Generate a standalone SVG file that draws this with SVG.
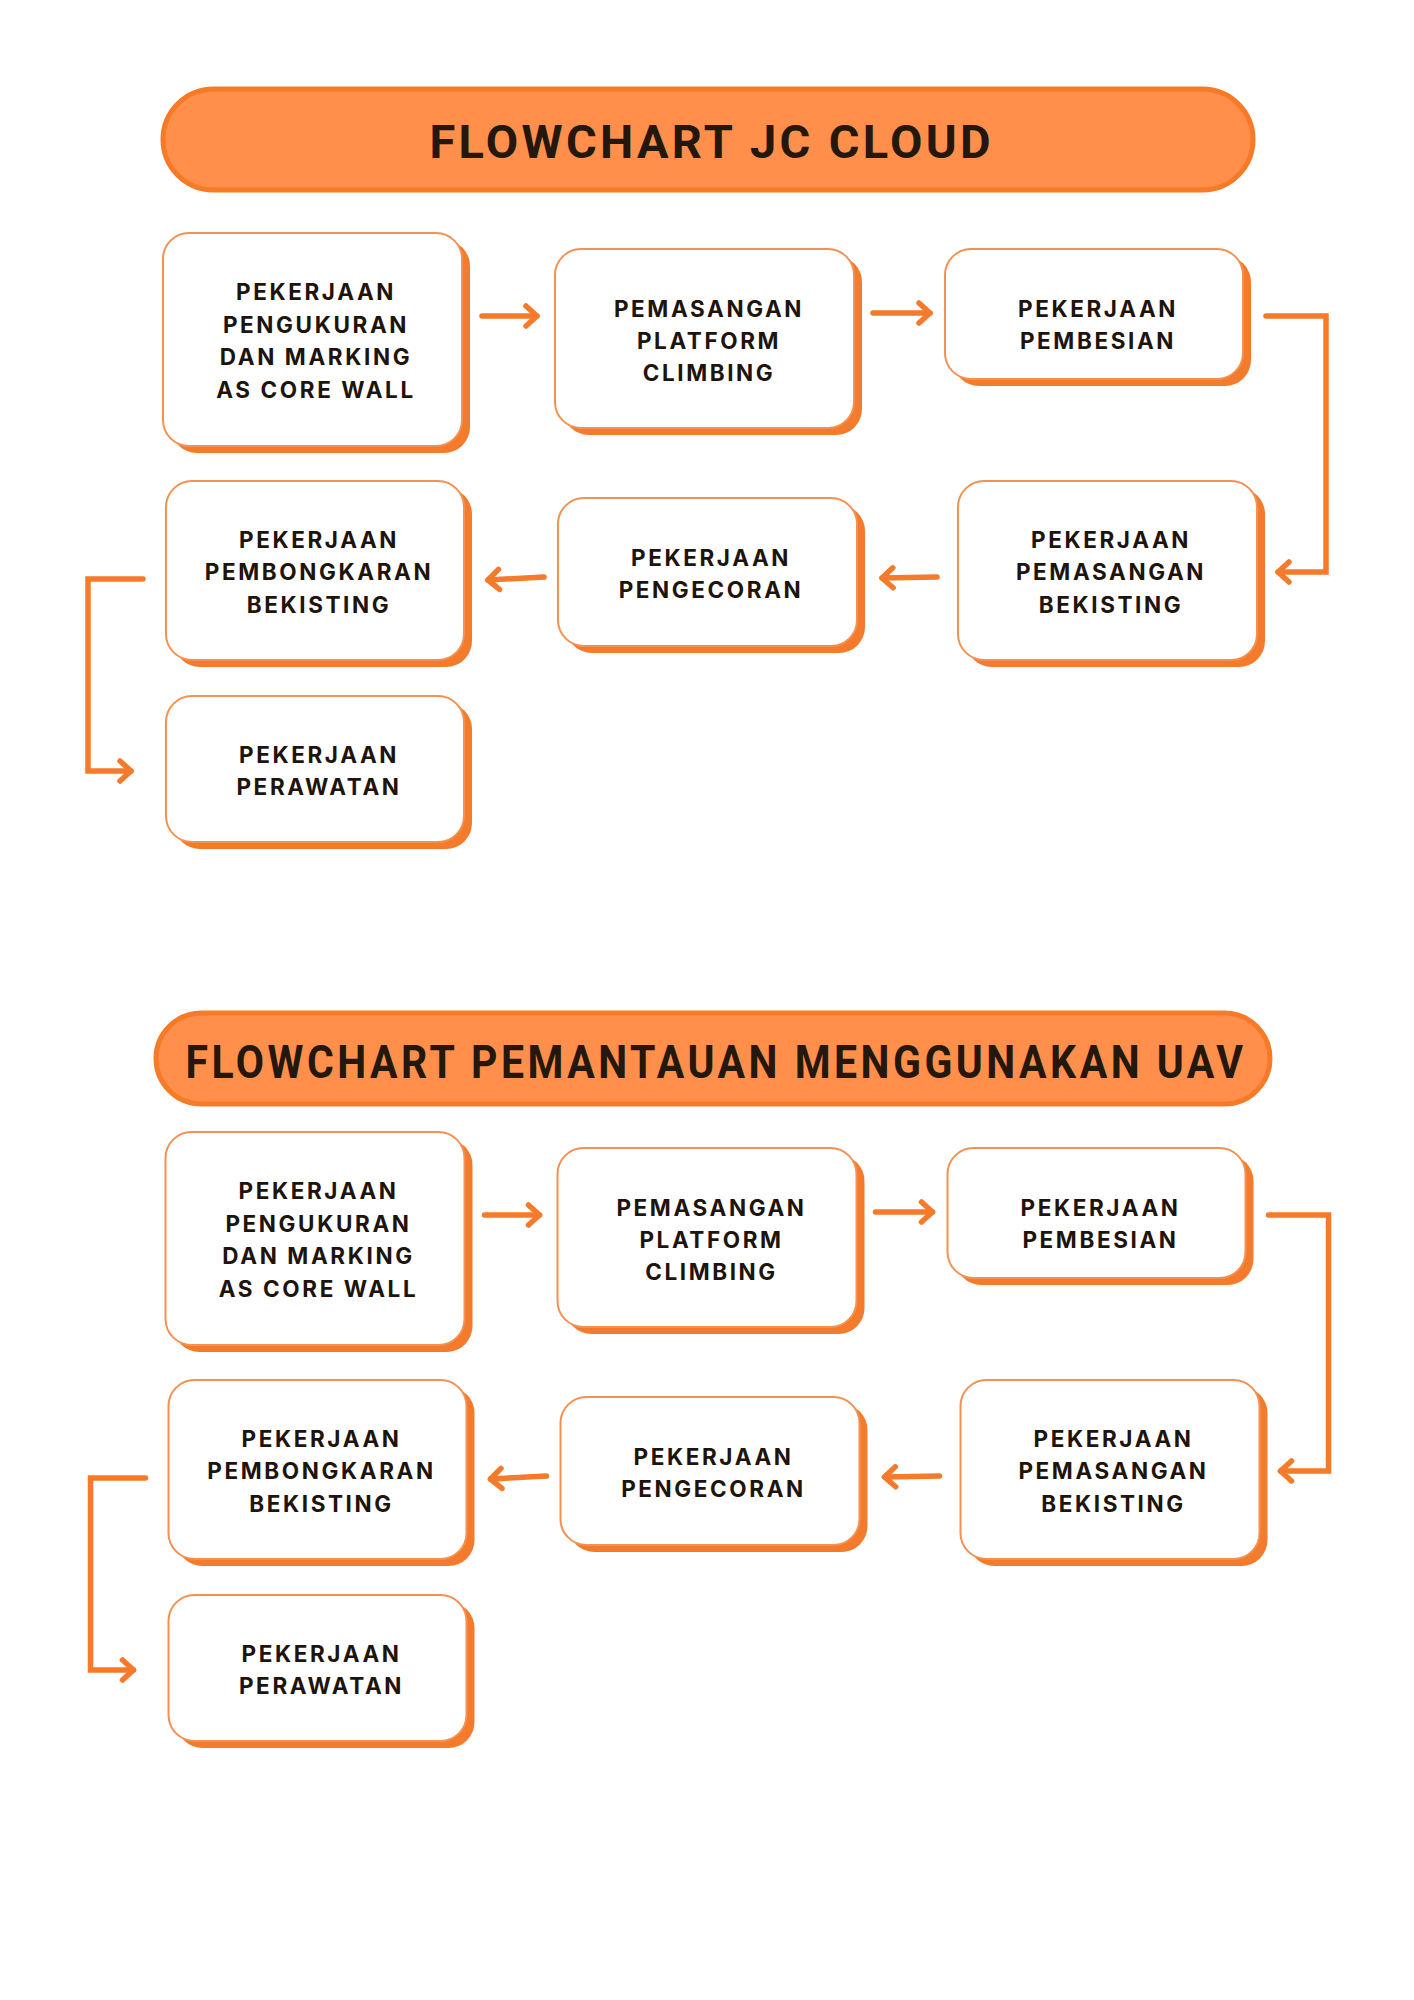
<svg xmlns="http://www.w3.org/2000/svg" width="1414" height="2000" viewBox="0 0 1414 2000">
<defs>
<style>
.bg{fill:#ffffff}
.pill{fill:#FF8F4B;stroke:#F77A27;stroke-width:5}
.title{font-family:Roboto,"Liberation Sans",sans-serif;font-weight:700;fill:#24170c;text-anchor:middle}
.sh{fill:#F47B2B}
.box{fill:#ffffff;stroke:#F39152;stroke-width:2}
.lbl{font-family:Inter,"Liberation Sans",sans-serif;font-weight:700;font-size:22.5px;letter-spacing:2.6px;fill:#1e140c;text-anchor:middle}
.con{fill:none;stroke:#F47B2B;stroke-width:5.5;stroke-linecap:round;stroke-linejoin:miter}
</style>
<marker id="chev" markerUnits="userSpaceOnUse" viewBox="0 0 24 28" markerWidth="24" markerHeight="28" refX="18" refY="14" orient="auto">
<path d="M7,4 L18,14 L7,24" fill="none" stroke="#F47B2B" stroke-width="5.5" stroke-linecap="round" stroke-linejoin="round"/>
</marker>
</defs>
<rect class="bg" x="0" y="0" width="1414" height="2000"/>

<g id="section1">
<g id="header1">
<rect class="pill" x="163" y="89" width="1090" height="101" rx="50.5"/>
<text class="title" x="710" y="158" font-size="47" textLength="561" lengthAdjust="spacing">FLOWCHART JC CLOUD</text>
</g>
<g id="s1-n1">
<rect class="sh" x="171" y="240" width="299" height="213" rx="26"/>
<rect class="box" x="163" y="233" width="299" height="213" rx="26"/>
<text class="lbl" x="316" y="300">PEKERJAAN</text>
<text class="lbl" x="316" y="333">PENGUKURAN</text>
<text class="lbl" x="316" y="365">DAN MARKING</text>
<text class="lbl" x="316" y="398">AS CORE WALL</text>
</g>
<g id="s1-n2">
<rect class="sh" x="563" y="256" width="299" height="179" rx="26"/>
<rect class="box" x="555" y="249" width="299" height="179" rx="26"/>
<text class="lbl" x="709" y="317">PEMASANGAN</text>
<text class="lbl" x="709" y="349">PLATFORM</text>
<text class="lbl" x="709" y="381">CLIMBING</text>
</g>
<g id="s1-n3">
<rect class="sh" x="953" y="256" width="298" height="130" rx="26"/>
<rect class="box" x="945" y="249" width="298" height="130" rx="26"/>
<text class="lbl" x="1098" y="317">PEKERJAAN</text>
<text class="lbl" x="1098" y="349">PEMBESIAN</text>
</g>
<g id="s1-n4">
<rect class="sh" x="966" y="488" width="299" height="179" rx="26"/>
<rect class="box" x="958" y="481" width="299" height="179" rx="26"/>
<text class="lbl" x="1111" y="548">PEKERJAAN</text>
<text class="lbl" x="1111" y="580">PEMASANGAN</text>
<text class="lbl" x="1111" y="613">BEKISTING</text>
</g>
<g id="s1-n5">
<rect class="sh" x="566" y="505" width="299" height="148" rx="26"/>
<rect class="box" x="558" y="498" width="299" height="148" rx="26"/>
<text class="lbl" x="711" y="566">PEKERJAAN</text>
<text class="lbl" x="711" y="598">PENGECORAN</text>
</g>
<g id="s1-n6">
<rect class="sh" x="174" y="488" width="298" height="179" rx="26"/>
<rect class="box" x="166" y="481" width="298" height="179" rx="26"/>
<text class="lbl" x="319" y="548">PEKERJAAN</text>
<text class="lbl" x="319" y="580">PEMBONGKARAN</text>
<text class="lbl" x="319" y="613">BEKISTING</text>
</g>
<g id="s1-n7">
<rect class="sh" x="174" y="703" width="298" height="146" rx="26"/>
<rect class="box" x="166" y="696" width="298" height="146" rx="26"/>
<text class="lbl" x="319" y="763">PEKERJAAN</text>
<text class="lbl" x="319" y="795">PERAWATAN</text>
</g>
<g id="s1-connectors">
<path class="con" d="M482,316 L537,316" marker-end="url(#chev)"/>
<path class="con" d="M873,313 L930,313" marker-end="url(#chev)"/>
<path class="con" d="M1266,316 L1326,316 L1326,572 L1278,572" marker-end="url(#chev)"/>
<path class="con" d="M937,577 L882,578" marker-end="url(#chev)"/>
<path class="con" d="M544,577 L488,580" marker-end="url(#chev)"/>
<path class="con" d="M143,579 L88,579 L88,771 L131,771" marker-end="url(#chev)"/>
</g>
</g>

<g id="section2">
<g id="header2">
<rect class="pill" x="156" y="1013" width="1114" height="91" rx="45.5"/>
<text class="title" x="716" y="1078" font-size="47" letter-spacing="4" textLength="1061" lengthAdjust="spacingAndGlyphs">FLOWCHART PEMANTAUAN MENGGUNAKAN UAV</text>
</g>
<g transform="translate(2.5,899)">
<g id="s2-n1">
<rect class="sh" x="171" y="240" width="299" height="213" rx="26"/>
<rect class="box" x="163" y="233" width="299" height="213" rx="26"/>
<text class="lbl" x="316" y="300">PEKERJAAN</text>
<text class="lbl" x="316" y="333">PENGUKURAN</text>
<text class="lbl" x="316" y="365">DAN MARKING</text>
<text class="lbl" x="316" y="398">AS CORE WALL</text>
</g>
<g id="s2-n2">
<rect class="sh" x="563" y="256" width="299" height="179" rx="26"/>
<rect class="box" x="555" y="249" width="299" height="179" rx="26"/>
<text class="lbl" x="709" y="317">PEMASANGAN</text>
<text class="lbl" x="709" y="349">PLATFORM</text>
<text class="lbl" x="709" y="381">CLIMBING</text>
</g>
<g id="s2-n3">
<rect class="sh" x="953" y="256" width="298" height="130" rx="26"/>
<rect class="box" x="945" y="249" width="298" height="130" rx="26"/>
<text class="lbl" x="1098" y="317">PEKERJAAN</text>
<text class="lbl" x="1098" y="349">PEMBESIAN</text>
</g>
<g id="s2-n4">
<rect class="sh" x="966" y="488" width="299" height="179" rx="26"/>
<rect class="box" x="958" y="481" width="299" height="179" rx="26"/>
<text class="lbl" x="1111" y="548">PEKERJAAN</text>
<text class="lbl" x="1111" y="580">PEMASANGAN</text>
<text class="lbl" x="1111" y="613">BEKISTING</text>
</g>
<g id="s2-n5">
<rect class="sh" x="566" y="505" width="299" height="148" rx="26"/>
<rect class="box" x="558" y="498" width="299" height="148" rx="26"/>
<text class="lbl" x="711" y="566">PEKERJAAN</text>
<text class="lbl" x="711" y="598">PENGECORAN</text>
</g>
<g id="s2-n6">
<rect class="sh" x="174" y="488" width="298" height="179" rx="26"/>
<rect class="box" x="166" y="481" width="298" height="179" rx="26"/>
<text class="lbl" x="319" y="548">PEKERJAAN</text>
<text class="lbl" x="319" y="580">PEMBONGKARAN</text>
<text class="lbl" x="319" y="613">BEKISTING</text>
</g>
<g id="s2-n7">
<rect class="sh" x="174" y="703" width="298" height="146" rx="26"/>
<rect class="box" x="166" y="696" width="298" height="146" rx="26"/>
<text class="lbl" x="319" y="763">PEKERJAAN</text>
<text class="lbl" x="319" y="795">PERAWATAN</text>
</g>
<g id="s2-connectors">
<path class="con" d="M482,316 L537,316" marker-end="url(#chev)"/>
<path class="con" d="M873,313 L930,313" marker-end="url(#chev)"/>
<path class="con" d="M1266,316 L1326,316 L1326,572 L1278,572" marker-end="url(#chev)"/>
<path class="con" d="M937,577 L882,578" marker-end="url(#chev)"/>
<path class="con" d="M544,577 L488,580" marker-end="url(#chev)"/>
<path class="con" d="M143,579 L88,579 L88,771 L131,771" marker-end="url(#chev)"/>
</g>
</g>
</g>
</svg>
